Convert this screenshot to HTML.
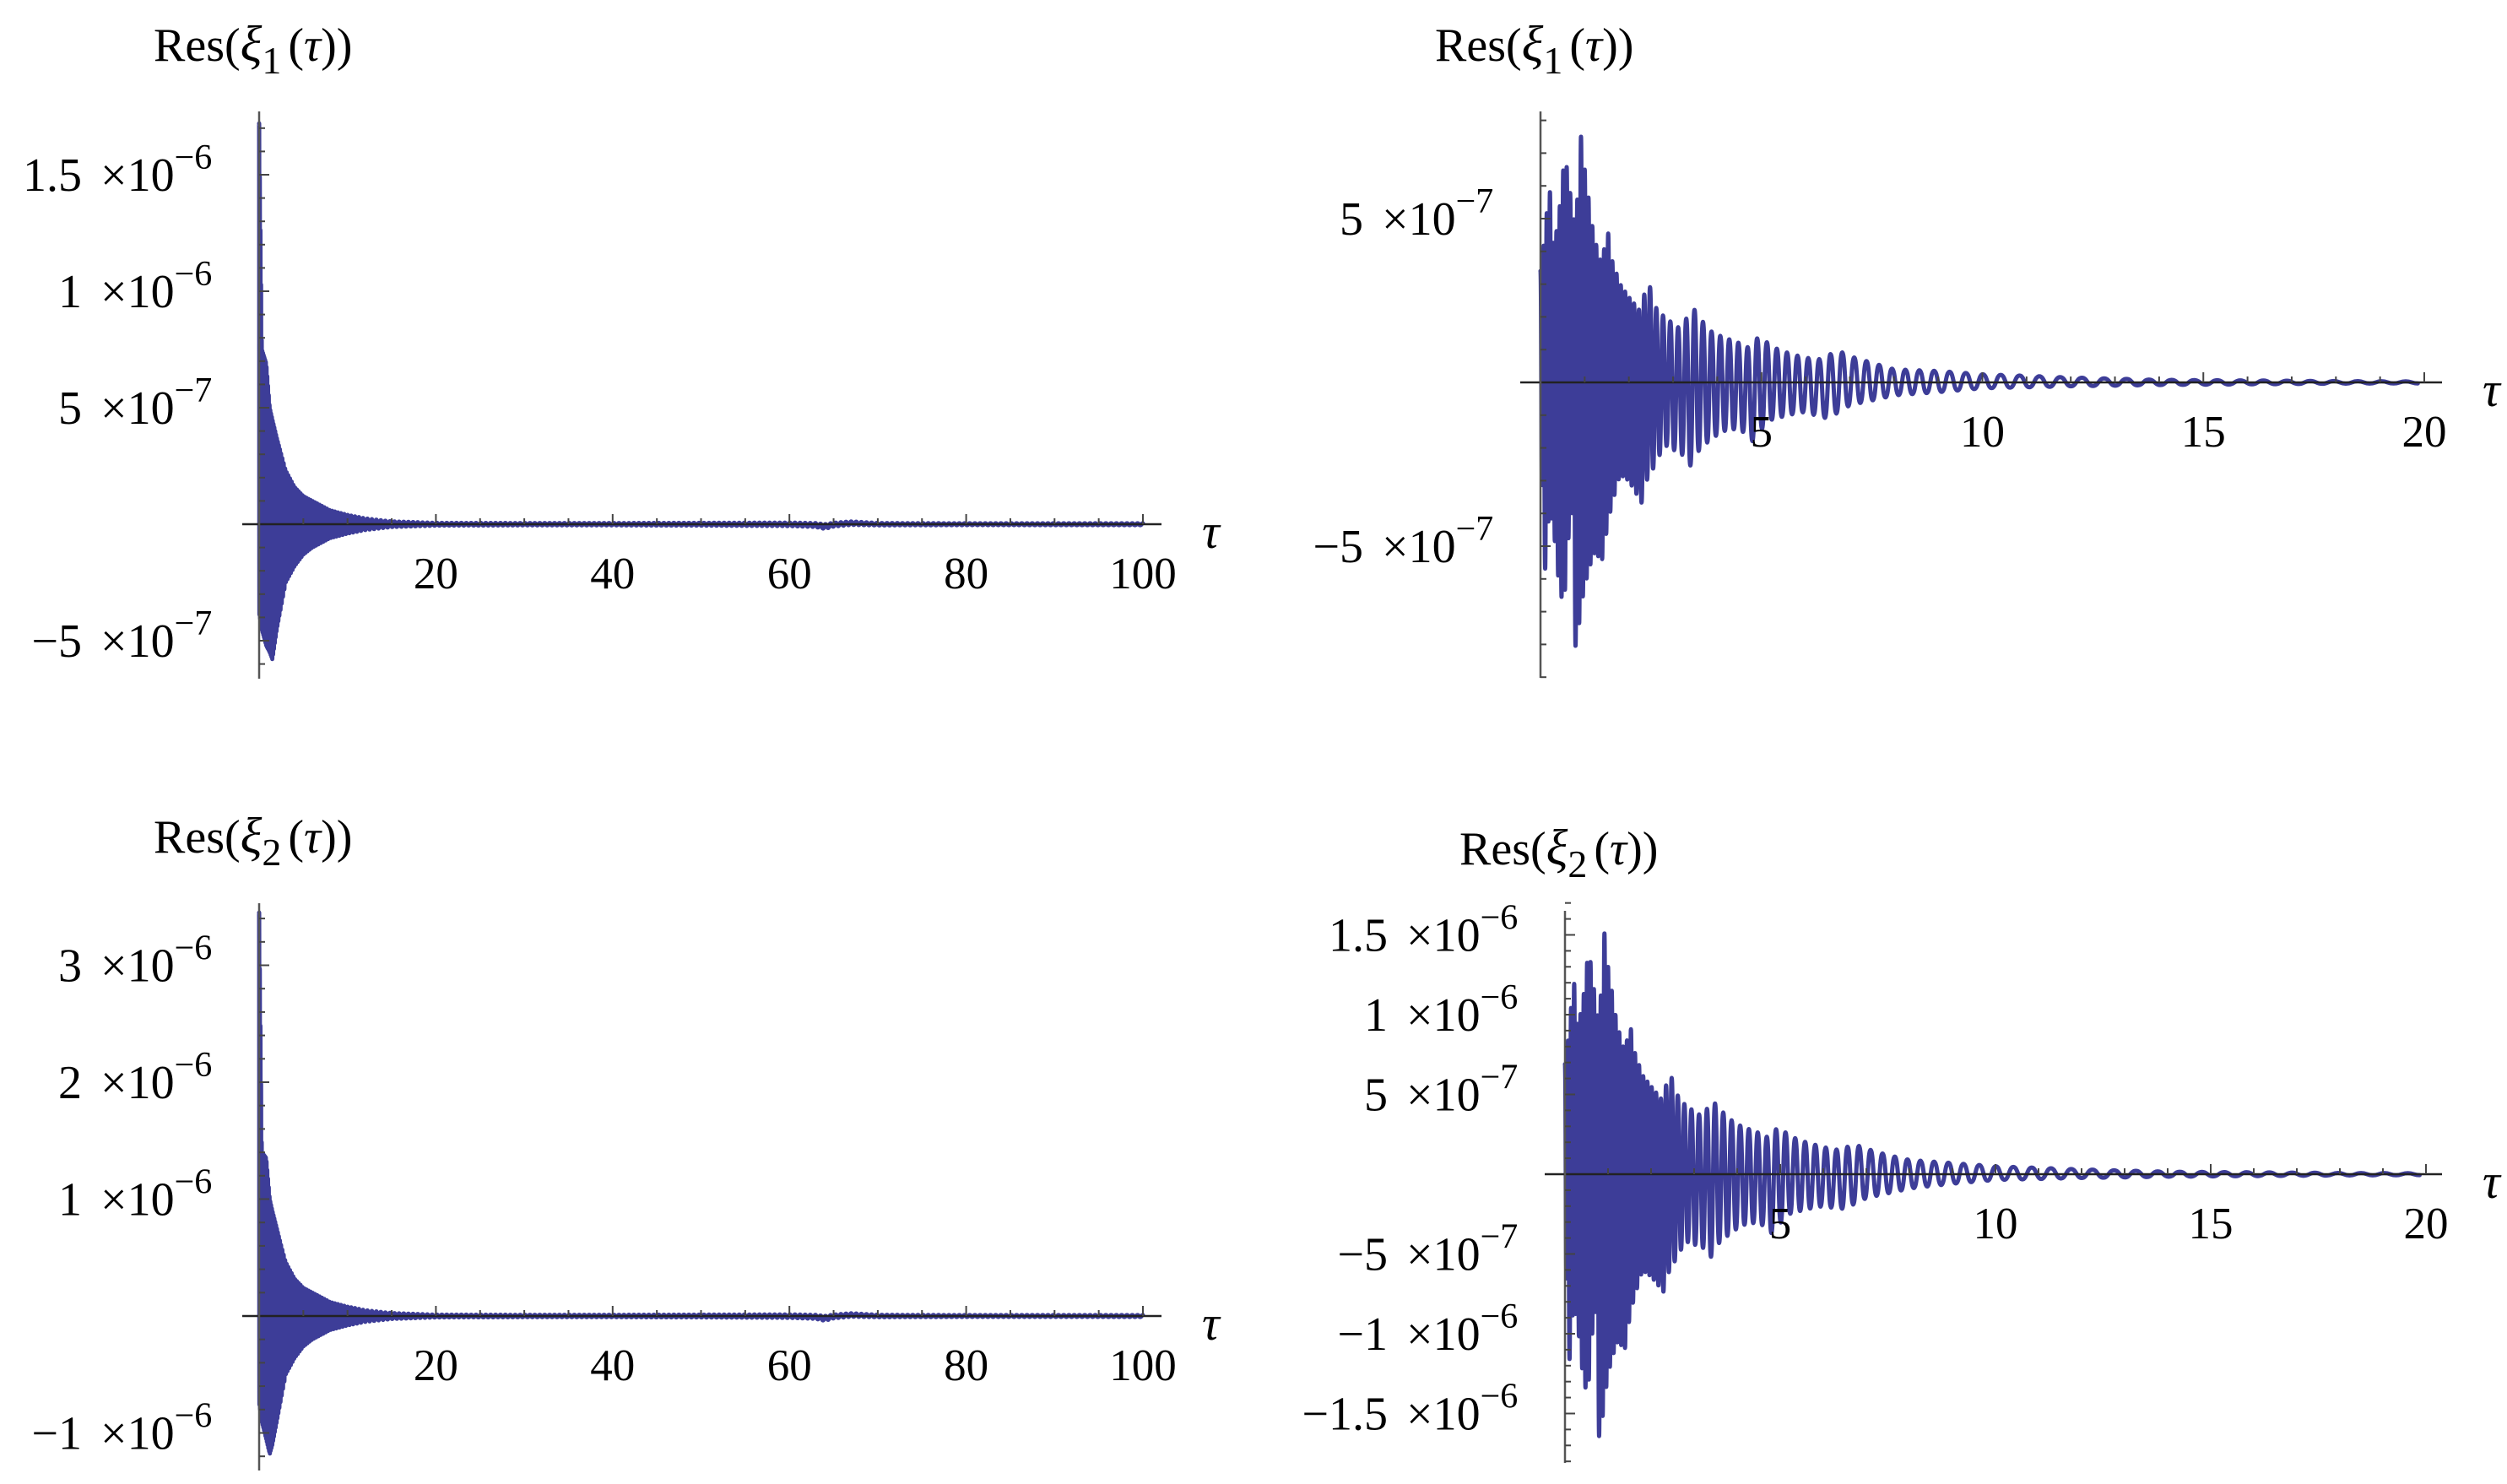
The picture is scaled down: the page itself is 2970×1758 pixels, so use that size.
<!DOCTYPE html>
<html><head><meta charset="utf-8">
<style>
html,body{margin:0;padding:0;background:#fff;}
svg{display:block;}
text{font-family:"Liberation Serif",serif;fill:#000;}
</style></head>
<body>
<svg id="fig" width="2970" height="1758" viewBox="0 0 2970 1758" xmlns="http://www.w3.org/2000/svg"></svg>
<script>
// ---- data (values in units of 1e-7) ----
const perTau = [0, 2, 3, 5, 8, 12, 20, 100];
const perVal = [0.07, 0.1, 0.18, 0.22, 0.3, 0.5, 0.55, 0.6];

const tlTau = [0,0.3,0.8,1.2,1.5,2,2.5,3,4,5,6,7,8,10,12,15,20,30,40,50,60,63,64,65,67,70,80,100];
const tlUp  = [17.2,7.5,6.9,5,4.5,3.7,3.0,2.3,1.6,1.2,1.0,0.8,0.6,0.4,0.25,0.12,0.06,0.05,0.05,0.06,0.07,0.05,0.0,0.06,0.12,0.05,0.04,0.04];
const tlLo  = [-3.8,-4.5,-5.2,-5.5,-5.8,-4.5,-3.5,-2.5,-1.8,-1.3,-1.0,-0.8,-0.6,-0.4,-0.25,-0.12,-0.06,-0.05,-0.05,-0.06,-0.08,-0.12,-0.2,-0.1,-0.03,-0.05,-0.04,-0.04];

const blTau = [0,0.3,0.8,1.2,1.5,2,2.5,3,4,5,6,7,8,10,12,15,20,30,40,50,60,63,64,65,67,70,80,100];
const blUp  = [34.5,14,13.5,10,9,7.5,6,4.6,3.2,2.4,2.0,1.6,1.2,0.8,0.5,0.25,0.12,0.1,0.1,0.12,0.14,0.1,0,0.12,0.24,0.1,0.08,0.08];
const blLo  = [-7.4,-9,-10.5,-11.8,-11,-9,-7,-5,-3.6,-2.6,-2,-1.6,-1.2,-0.8,-0.5,-0.25,-0.12,-0.1,-0.1,-0.12,-0.16,-0.24,-0.4,-0.2,-0.06,-0.1,-0.08,-0.08];

const trTau = [0,0.1,0.2,0.3,0.45,0.55,0.7,0.8,0.9,1.0,1.2,1.4,1.5,1.6,1.8,2.0,2.3,2.4,2.6,2.8,3.2,3.4,3.5,3.8,4.1,4.5,4.8,4.95,5.2,5.6,6.0,6.4,6.7,7.0,7.5,8,9,10,12,14,16,18,20];
const trUp  = [3.4,4.5,6.1,4.0,5.5,7.0,5.5,4.5,7.7,6.5,4.5,3.5,4.9,3.8,3.0,2.6,2.1,3.3,2.3,2.0,1.6,2.3,2.2,1.6,1.4,1.2,1.0,1.5,1.1,0.9,0.75,0.7,1.0,0.8,0.6,0.4,0.35,0.25,0.15,0.08,0.06,0.04,0.03];
const trLo  = [-1.7,-5.8,-3.8,-4.5,-6.6,-6.4,-3.4,-8.4,-7.0,-6.2,-5.2,-5.4,-4.5,-3.8,-2.8,-3.0,-3.7,-3.0,-2.5,-1.9,-2.2,-2.55,-2.2,-1.8,-1.5,-1.4,-1.8,-1.5,-1.15,-1.0,-0.9,-1.1,-0.95,-0.7,-0.55,-0.4,-0.3,-0.18,-0.12,-0.08,-0.06,-0.04,-0.03];

const brTau = [0,0.1,0.2,0.3,0.45,0.55,0.7,0.8,0.9,1.0,1.2,1.4,1.5,1.6,1.8,2.0,2.3,2.4,2.6,2.8,3.2,3.4,3.5,3.8,4.1,4.5,4.8,4.95,5.2,5.6,6.0,6.4,6.7,7.0,7.5,8,9,10,12,14,16,18,20];
const brUp  = [6.9,9,12.4,9,11.5,14.2,11,9,15.5,13,9.5,7.5,9.7,7.8,6.2,5.5,4.5,6.7,5,4.3,3.6,4.6,4.4,3.5,3,2.6,2.2,3.1,2.4,2,1.7,1.5,1.9,1.6,1.2,0.9,0.7,0.5,0.3,0.16,0.12,0.08,0.06];
const brLo  = [-3.7,-11.8,-8,-9.5,-13.5,-13,-7.5,-17.1,-14.5,-12.5,-10.5,-10.9,-9,-7.8,-6,-6.4,-7.4,-6.2,-5.2,-4.2,-4.6,-5.2,-4.5,-3.8,-3.2,-3,-3.7,-3.2,-2.5,-2.2,-2.0,-2.2,-1.9,-1.5,-1.2,-0.9,-0.6,-0.36,-0.24,-0.16,-0.12,-0.08,-0.06];

const tlXTicks = [20, 40, 60, 80, 100];
const trXTicks = [5, 10, 15, 20];
const tlYTicks = [{v:15,m:"1.5",e:"−6"},{v:10,m:"1",e:"−6"},{v:5,m:"5",e:"−7"},{v:-5,m:"−5",e:"−7"}];
const trYTicks = [{v:5,m:"5",e:"−7"},{v:-5,m:"−5",e:"−7"}];
const blYTicks = [{v:30,m:"3",e:"−6"},{v:20,m:"2",e:"−6"},{v:10,m:"1",e:"−6"},{v:-10,m:"−1",e:"−6"}];
const brYTicks = [{v:15,m:"1.5",e:"−6"},{v:10,m:"1",e:"−6"},{v:5,m:"5",e:"−7"},{v:-5,m:"−5",e:"−7"},{v:-10,m:"−1",e:"−6"},{v:-15,m:"−1.5",e:"−6"}];

const NS = "http://www.w3.org/2000/svg";
const svg = document.getElementById('fig');
function mk(tag, attrs, parent){ const e=document.createElementNS(NS,tag); for(const k in attrs) e.setAttribute(k,attrs[k]); (parent||svg).appendChild(e); return e; }
function interp(xs, ys, x){
  if(x<=xs[0]) return ys[0];
  for(let i=1;i<xs.length;i++){ if(x<=xs[i]){ const t=(x-xs[i-1])/(xs[i]-xs[i-1]); return ys[i-1]+t*(ys[i]-ys[i-1]); } }
  return ys[ys.length-1];
}

function panel(p){
  const g = mk('g',{});
  
  
  const X = t => p.x0 + t*p.sx;
  const Y = v => p.y0 - v*p.sy;
  let d = '', t = 0, k = 0, px = null, py = null;
  while(t <= p.tmax + 1e-9){
    const v = (k%2===0) ? interp(p.tau,p.up,t) : interp(p.tau,p.lo,t);
    const x = X(t), y = Y(v);
    if(px===null) d += 'M'+x.toFixed(2)+' '+y.toFixed(2);
    else { const mx=(px+x)/2; d += ' C'+mx.toFixed(2)+' '+py.toFixed(2)+' '+mx.toFixed(2)+' '+y.toFixed(2)+' '+x.toFixed(2)+' '+y.toFixed(2); }
    px=x; py=y;
    t += interp(perTau,perVal,t)/2; k++;
  }
  const path = mk('path',{d:d,fill:'none',stroke:'#3d3d98','stroke-width':5,'stroke-linejoin':'round','stroke-linecap':'round'},g);
  
  
  const xa = mk('line',{x1:p.xaL,x2:p.xaR,y1:p.y0,y2:p.y0,stroke:'#222','stroke-width':2.5},g);
  
  
  const ya = mk('line',{x1:p.x0,x2:p.x0,y1:p.yaT,y2:p.yaB,stroke:'#555','stroke-width':2.5},g);
  
  
  for(let t2=p.xMinor; t2<=p.tmax+1e-9; t2+=p.xMinor){
    const major = Math.abs(t2/p.xMajor-Math.round(t2/p.xMajor))<1e-6;
    mk('line',{x1:X(t2),x2:X(t2),y1:p.y0,y2:p.y0-(major?12:7),stroke:'#444','stroke-width':2},g);
  }
  p.xt.forEach(v=>{
    const tx = mk('text',{x:X(v),y:p.y0+76,'text-anchor':'middle','font-size':53},g);
    tx.textContent = v;
    
    
  });
  for(let v=p.yMinLo; v<=p.yMinHi+1e-9; v+=p.yMinor){
    if(Math.abs(v)<1e-9) continue;
    const major = Math.abs(v/5-Math.round(v/5))<1e-6;
    mk('line',{x1:p.x0,x2:p.x0+(major?12:7),y1:Y(v),y2:Y(v),stroke:'#444','stroke-width':2},g);
  }
  p.yt.forEach(o=>{
    const y = Y(o.v);
    const m = mk('text',{x:p.x0-210,y:y+19,'text-anchor':'end','font-size':56},g);
    m.textContent = o.m;
    
    
    const e = mk('text',{x:p.x0-188,y:y+19,'font-size':56},g);
    
    
    const s1 = mk('tspan',{},e); s1.textContent='×10';
    const s2 = mk('tspan',{dy:-26,'font-size':42},e); s2.textContent=o.e;
  });
  const tl = mk('text',{x:p.xaR+48,y:p.y0+28,'font-size':58,'font-style':'italic'},g);
  tl.textContent='τ';
  
  
  const ti = mk('text',{x:p.tx,y:p.ty,'font-size':56},g);
  
  
  const a=mk('tspan',{},ti); a.textContent='Res(';
  const b=mk('tspan',{'font-style':'italic','font-size':60},ti); b.textContent='ξ';
  const c=mk('tspan',{dy:15,'font-size':46},ti); c.textContent=p.sub;
  const d2=mk('tspan',{dy:-15,dx:8},ti); d2.textContent='(';
  const e2=mk('tspan',{'font-style':'italic'},ti); e2.textContent='τ';
  const f=mk('tspan',{},ti); f.textContent='))';
}

panel({name:'panel-xi1-long', tau:tlTau, up:tlUp, lo:tlLo, tmax:100, x0:307, sx:10.47, y0:621, sy:27.6,
  xaL:287, xaR:1376, yaT:132, yaB:804, xMinor:5, xMajor:20, xt:tlXTicks, yMinLo:-6, yMinHi:17, yMinor:1, yt:tlYTicks,
  tx:182, ty:72, sub:'1'});
panel({name:'panel-xi1-short', tau:trTau, up:trUp, lo:trLo, tmax:20, x0:1825, sx:52.35, y0:453, sy:38.8,
  xaL:1801, xaR:2893, yaT:132, yaB:803, xMinor:1, xMajor:5, xt:trXTicks, yMinLo:-9, yMinHi:8, yMinor:1, yt:trYTicks,
  tx:1700, ty:72, sub:'1'});
panel({name:'panel-xi2-long', tau:blTau, up:blUp, lo:blLo, tmax:100, x0:307, sx:10.47, y0:1559, sy:13.85,
  xaL:287, xaR:1376, yaT:1070, yaB:1742, xMinor:5, xMajor:20, xt:tlXTicks, yMinLo:-12, yMinHi:34, yMinor:2, yt:blYTicks,
  tx:182, ty:1010, sub:'2'});
panel({name:'panel-xi2-short', tau:brTau, up:brUp, lo:brLo, tmax:20, x0:1854, sx:51, y0:1391, sy:18.9,
  xaL:1830, xaR:2893, yaT:1079, yaB:1733, xMinor:1, xMajor:5, xt:trXTicks, yMinLo:-18, yMinHi:17, yMinor:1, yt:brYTicks,
  tx:1729, ty:1024, sub:'2'});
</script>
</body></html>
